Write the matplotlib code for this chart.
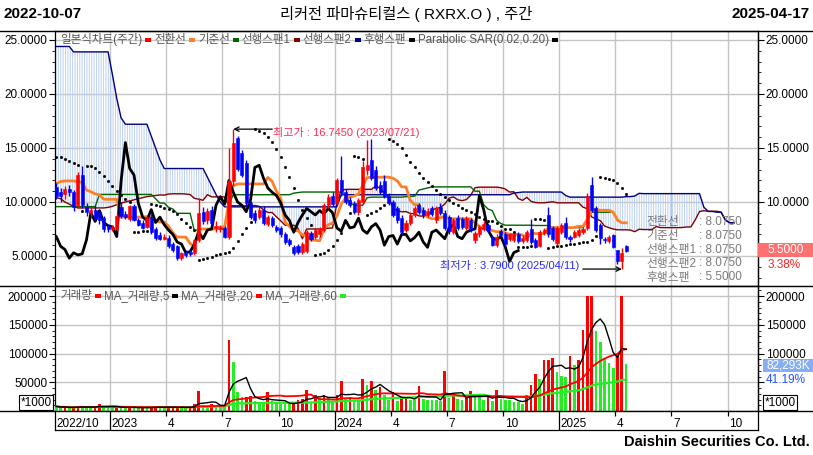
import numpy as np
import pandas as pd
import matplotlib
matplotlib.use("Agg")
import matplotlib.pyplot as plt
from matplotlib.patches import Rectangle
from matplotlib.lines import Line2D
from matplotlib.ticker import FixedLocator, MultipleLocator, FuncFormatter

plt.rcParams['font.family'] = ['Liberation Sans', 'Noto Sans CJK KR', 'DejaVu Sans']
plt.rcParams['hatch.linewidth'] = 0.7

# ---------------- data ----------------
title = "리커전 파마슈티컬스 ( RXRX.O ) , 주간"
date_from = "2022-10-07"
date_to = "2025-04-17"

opens = [11.4, 10.9, 10.7, 11.2, 10.9, 9.7, 12.5, 9.5, 9.0, 9.3,
         9.1, 8.5, 7.8, 7.5, 7.5, 9.5, 8.9, 8.4, 9.6, 8.3,
         8.1, 7.7, 8.6, 7.5, 6.9, 6.6, 6.7, 6.1, 5.9, 4.8,
         5.3, 5.4, 5.3, 6.5, 9.1, 8.3, 9.3, 7.6, 7.5, 7.6,
         6.8, 11.9, 15.9, 14.5, 13.6, 9.9, 9.0, 8.6, 9.3, 8.0,
         8.5, 7.7, 7.6, 7.0, 6.5, 5.8, 5.9, 5.4, 5.5, 7.1,
         6.8, 7.0, 7.4, 9.7, 10.6, 9.9, 12.0, 10.9, 10.2, 9.9,
         9.1, 10.0, 13.0, 13.9, 13.0, 11.6, 11.9, 10.6, 10.0, 9.4,
         8.5, 7.4, 8.1, 8.8, 9.7, 9.3, 8.8, 9.4, 8.3, 9.5,
         9.0, 8.6, 7.2, 8.5, 8.4, 7.6, 8.3, 6.5, 7.0, 7.5,
         7.9, 6.7, 6.0, 7.3, 7.0, 6.6, 6.5, 7.0, 6.4, 6.5,
         7.5, 6.5, 5.9, 7.1, 8.8, 7.6, 6.2, 7.2, 8.1, 6.8,
         6.8, 6.9, 7.2, 7.6, 11.6, 9.4, 7.9, 6.6, 6.4, 6.9,
         5.55, 4.5, 5.9]
highs = [11.8, 11.3, 11.5, 11.6, 11.1, 12.8, 13.3, 9.9, 9.5, 9.6,
         9.3, 8.7, 8.0, 7.9, 9.0, 10.0, 9.2, 9.7, 9.8, 8.5,
         8.3, 8.7, 8.9, 7.7, 7.2, 7.0, 6.9, 6.3, 6.0, 5.4,
         5.6, 5.6, 6.6, 10.4, 9.5, 9.4, 9.6, 8.2, 7.9, 7.8,
         15.0, 16.745, 16.1, 14.8, 13.9, 10.1, 9.3, 9.5, 9.6, 8.8,
         8.7, 7.9, 7.8, 7.2, 6.7, 6.0, 6.1, 6.3, 7.4, 7.3,
         7.6, 7.7, 9.9, 10.7, 10.9, 12.2, 14.3, 11.2, 10.5, 10.1,
         10.4, 13.8, 15.7, 15.8, 13.3, 11.9, 12.5, 10.8, 10.2, 9.6,
         8.8, 8.3, 9.0, 9.6, 9.9, 9.5, 9.4, 9.6, 9.6, 9.9,
         9.3, 8.8, 8.5, 8.8, 8.6, 8.7, 8.5, 7.3, 7.9, 8.2,
         8.1, 6.9, 7.0, 7.5, 7.2, 7.1, 7.1, 7.2, 6.9, 7.4,
         8.4, 6.7, 7.4, 7.6, 9.5, 7.8, 7.8, 8.1, 8.6, 6.9,
         7.4, 7.6, 7.7, 10.8, 12.36, 9.6, 8.1, 6.8, 6.9, 7.0,
         5.6, 5.75, 6.0]
lows = [10.3, 10.0, 10.3, 10.6, 9.2, 9.4, 9.4, 8.7, 8.6, 8.2,
        8.0, 7.2, 7.2, 7.3, 7.3, 8.5, 8.4, 8.2, 8.2, 7.8,
        7.5, 7.6, 7.0, 6.5, 6.5, 6.5, 5.7, 5.4, 4.6, 4.6,
        4.9, 5.0, 5.1, 6.3, 8.0, 8.0, 7.9, 7.2, 7.2, 6.7,
        6.6, 11.5, 12.9, 12.3, 9.6, 8.4, 8.1, 8.4, 7.9, 7.8,
        7.7, 7.2, 6.8, 6.1, 5.9, 5.1, 5.2, 5.2, 5.3, 6.4,
        6.6, 6.8, 7.2, 9.4, 9.6, 9.7, 10.6, 9.8, 9.5, 8.9,
        8.8, 9.8, 12.5, 12.0, 11.1, 10.7, 10.4, 9.7, 8.6, 8.1,
        7.0, 7.2, 7.9, 8.6, 8.9, 8.5, 8.6, 8.7, 8.1, 8.8,
        7.4, 7.0, 7.0, 7.4, 7.5, 7.4, 7.2, 6.2, 6.8, 7.3,
        7.2, 5.9, 5.8, 6.7, 5.8, 6.4, 6.3, 6.2, 6.2, 6.3,
        6.1, 5.75, 5.8, 6.9, 6.8, 6.4, 6.0, 7.0, 6.6, 6.3,
        6.7, 6.8, 7.0, 7.4, 9.1, 7.2, 6.1, 6.2, 6.2, 5.75,
        4.3, 3.79, 5.4]
closes = [10.6, 10.6, 11.2, 10.9, 9.5, 12.5, 9.7, 9.1, 9.3, 8.4,
          8.3, 7.5, 7.5, 7.7, 8.7, 8.7, 8.6, 9.6, 8.3, 7.9,
          7.6, 8.5, 7.2, 6.7, 6.6, 6.8, 5.9, 5.6, 4.8, 5.3,
          5.1, 5.2, 6.5, 9.0, 8.2, 9.2, 8.1, 7.8, 7.7, 6.8,
          11.9, 15.5, 13.1, 12.5, 9.9, 8.6, 8.3, 9.3, 8.1, 8.6,
          7.9, 7.4, 7.0, 6.3, 6.1, 5.3, 5.4, 6.1, 7.2, 6.6,
          7.4, 7.5, 9.7, 10.5, 9.8, 12.0, 10.9, 10.0, 9.7, 9.1,
          10.2, 13.2, 13.4, 12.2, 11.3, 10.9, 10.6, 9.9, 8.8, 8.3,
          7.2, 8.1, 8.8, 9.4, 9.1, 8.8, 9.2, 8.9, 9.4, 9.0,
          7.6, 7.3, 8.3, 7.6, 7.7, 8.5, 7.4, 7.1, 7.7, 8.0,
          7.4, 6.0, 6.8, 6.9, 6.1, 7.0, 7.0, 6.4, 6.7, 7.2,
          6.3, 5.8, 7.2, 7.4, 7.0, 6.6, 7.6, 7.9, 6.8, 6.6,
          7.2, 7.4, 7.5, 10.6, 9.3, 7.4, 6.7, 6.5, 6.8, 5.85,
          4.5, 5.32, 5.5]
volumes_k = [8, 6, 7, 5, 6, 9, 8, 6, 5, 7,
             13, 8, 7, 6, 7, 6, 5.5, 7, 6, 5,
             5.5, 5, 7, 9, 6, 5, 6, 7, 8, 6,
             5, 6, 12, 35, 10, 9, 13, 9, 8.5, 8,
             123, 86, 33, 24, 25, 26, 17, 16, 15, 33,
             17, 14, 13, 12.5, 12, 13, 20, 21, 36, 16,
             27, 23, 28, 24, 16, 27, 52, 23, 25, 20,
             19, 55, 46, 52, 36, 42, 27, 19, 33, 17,
             23, 24, 20, 19.5, 43, 21, 20, 19, 18.5, 18,
             69, 23, 26, 21, 20, 24, 34, 25, 24.5, 20,
             25, 17, 36, 21, 19, 18.5, 16, 15.5, 13, 27,
             46, 65, 55, 88, 89, 92, 68, 61, 60, 95,
             80, 88, 141, 200, 200, 140, 120, 92, 83, 74,
             97, 199.79, 82.293]

# indicator values visible before enough in-window history exists
tenkan_early = [11.7, 11.9, 11.95, 11.95, 11.95, 11.9, 11.8, 11.1]
kijun_early = [9.57] * 10 + [10.7] * 13 + [10.3, 9.9]
span1_early = [10.4, 10.3, 10.0, 9.8, 9.6, 9.45, 9.45, 9.45, 9.45, 9.45,
               9.45, 9.45, 9.5, 9.6, 9.75, 9.9, 10.0, 10.1, 10.2, 10.3,
               10.4, 10.5, 10.55, 10.6, 10.65]
span2_early = ([24.4] * 4 + [23.9] * 9 + [21.8, 19.6, 17.8, 17.2] + [17.2] * 5 +
               [16.1, 15.0, 13.9] + [13.1] * 10 + [12.3, 11.5, 10.7, 10.0] +
               [9.55] * 27 + [10.67] * 10)
sar_first = 14.2

quarter_months = [(2022, 10), (2023, 1), (2023, 4), (2023, 7), (2023, 10), (2024, 1),
                  (2024, 4), (2024, 7), (2024, 10), (2025, 1), (2025, 4), (2025, 7), (2025, 10)]
quarter_labels = ['2022/10', '2023', '4', '7', '10', '2024', '4', '7', '10', '2025', '4', '7', '10']

# ---------------- helpers ----------------
W, H = 813, 455
SHIFT = 25
o = np.array(opens); h = np.array(highs); l = np.array(lows); c = np.array(closes)
n = len(c)
idx = np.arange(n)
weeks = pd.date_range(date_from, periods=n + 40, freq='7D')

X0, X1 = -0.3, 162.55


def fx(x):
    return x / W


def fy(y):
    return 1 - y / H


def mid(t, p):
    return (h[t - p + 1:t + 1].max() + l[t - p + 1:t + 1].min()) / 2


tenkan = np.array([tenkan_early[t] if t < len(tenkan_early) else mid(t, 9) for t in range(n)])
kijun = np.array([kijun_early[t] if t < len(kijun_early) else mid(t, 26) for t in range(n)])
tt = np.arange(n + SHIFT)
span1 = np.array([span1_early[t] if t < len(span1_early) else (tenkan[t - SHIFT] + kijun[t - SHIFT]) / 2
                  for t in tt])
span2 = np.array([span2_early[t] if t < len(span2_early) else mid(t - SHIFT, 52) for t in tt])


def parabolic_sar(hs, ls, start, step=0.02, cap=0.2):
    trend = -1; sar = start; ep = ls[0]; af = step
    out = [sar]
    for i in range(1, len(hs)):
        sar = sar + af * (ep - sar)
        if trend < 0:
            sar = max(sar, hs[i - 1], hs[max(i - 2, 0)])
            if hs[i] > sar:
                trend = 1; sar = ep; ep = hs[i]; af = step
            elif ls[i] < ep:
                ep = ls[i]; af = min(af + step, cap)
        else:
            sar = min(sar, ls[i - 1], ls[max(i - 2, 0)])
            if ls[i] < sar:
                trend = -1; sar = ep; ep = ls[i]; af = step
            elif hs[i] > ep:
                ep = hs[i]; af = min(af + step, cap)
        out.append(sar)
    return np.array(out)


sar = parabolic_sar(h, l, sar_first)

q_pos = []
for (yy, mm) in quarter_months:
    k = int(np.argmax(weeks >= pd.Timestamp(yy, mm, 1)))
    q_pos.append(k - 0.5)

# ---------------- figure ----------------
fig = plt.figure(figsize=(W / 100, H / 100), dpi=100)
fig.patch.set_facecolor('white')
ax = fig.add_axes([fx(55), fy(286), 703 / W, 255 / H])
axv = fig.add_axes([fx(55), fy(411), 703 / W, 125 / H])
axd = fig.add_axes([fx(55), fy(430), 703 / W, 19 / H])

grid_c = '#c4c4c4'
for a in (ax, axv, axd):
    a.set_xlim(X0, X1)
    a.set_xticks([])
    for sp in a.spines.values():
        sp.set_linewidth(0.9)
        sp.set_color('black')

# ---- main panel ----
ax.set_ylim(2.222, 25.833)
for p in q_pos[1:]:
    ax.axvline(p, color=grid_c, lw=1, zorder=0)
    axv.axvline(p, color=grid_c, lw=1, zorder=0)
for v in [5, 10, 15, 20, 25]:
    ax.axhline(v, color=grid_c, lw=1, zorder=0)

ax.fill_between(tt, span1, span2, where=span2 >= span1, interpolate=True,
                facecolor='none', edgecolor='#bcd0f2', hatch='|' * 7, linewidth=0, zorder=1)
ax.fill_between(tt, span1, span2, where=span2 < span1, interpolate=True,
                facecolor='none', edgecolor='#f2b6c6', hatch='|' * 7, linewidth=0, zorder=1)

ax.plot(tt, span1, color='#800000', lw=1.0, zorder=2)
ax.plot(tt, span2, color='#000080', lw=1.0, zorder=2)
ax.plot(idx, kijun, color='#006400', lw=1.0, zorder=2)
ax.plot(idx, tenkan, color='#ff7f27', lw=2.0, zorder=2)
ax.plot(idx[:n - SHIFT], c[SHIFT:], color='black', lw=2.0, zorder=3)
ax.plot(idx, sar, ls='none', marker='s', ms=1.0, color='black', zorder=3)

up = c >= o
ccol = np.where(up, '#ff0000', '#0000ff')
ax.vlines(idx, l, h, colors=ccol, lw=1.0, zorder=5)
ax.bar(idx, np.maximum(np.abs(c - o), 0.07), 0.72, bottom=np.minimum(o, c),
       color=ccol, edgecolor=ccol, lw=0.4, zorder=6)

price_fmt = FuncFormatter(lambda v, p: f"{v:.4f}")
ax.yaxis.set_major_locator(FixedLocator([5, 10, 15, 20, 25]))
ax.yaxis.set_minor_locator(MultipleLocator(1))
ax.yaxis.set_major_formatter(price_fmt)
ax.tick_params(axis='y', which='both', left=True, right=False, labelleft=True, labelright=False,
               direction='out', labelsize=8.5, pad=1.5)
ax.tick_params(axis='y', which='major', length=4)
ax.tick_params(axis='y', which='minor', length=2)
# right-hand scale: the lowest label sits under the last-price box
axr = ax.secondary_yaxis('right')
axr.yaxis.set_major_locator(FixedLocator([5, 10, 15, 20, 25]))
axr.yaxis.set_minor_locator(MultipleLocator(1))
axr.yaxis.set_major_formatter(FuncFormatter(lambda v, p: '' if v < 6 else f"{v:.4f}"))
axr.tick_params(axis='y', which='both', direction='out', labelsize=8.5, pad=1.5)
axr.tick_params(axis='y', which='major', length=4)
axr.tick_params(axis='y', which='minor', length=2)
axr.spines['right'].set_linewidth(0.9)

# high / low annotations
ih = int(np.argmax(h)); il = int(np.argmin(l))
s = 703 / (X1 - X0)
ax.annotate('', xy=(ih, h[ih]), xytext=(ih + 39 / s, h[ih]),
            arrowprops=dict(arrowstyle='->', color='black', lw=0.9, shrinkA=0, shrinkB=0,
                            mutation_scale=8), zorder=8)
ax.text(ih + 40 / s, h[ih] - 0.27, f"최고가 : {h[ih]:.4f} ({weeks[ih].strftime('%Y/%m/%d')})",
        color='#ff2a55', fontsize=8, ha='left', va='center', zorder=8)
ax.annotate('', xy=(il, l[il]), xytext=(il - 39 / s, l[il]),
            arrowprops=dict(arrowstyle='->', color='black', lw=0.9, shrinkA=0, shrinkB=0,
                            mutation_scale=8), zorder=8)
ax.text(il - 43 / s, l[il] + 0.37, f"최저가 : {l[il]:.4f} ({weeks[il].strftime('%Y/%m/%d')})",
        color='#2a2aff', fontsize=8, ha='right', va='center', zorder=8)

# ---- volume panel ----
vol = np.array(volumes_k) * 1000
vcol = ['#22ee22'] + ['#ff0000' if vol[i] >= vol[i - 1] else '#22ee22' for i in range(1, n)]
axv.set_ylim(0, 217400)
for v in [50000, 100000, 150000, 200000]:
    axv.axhline(v, color=grid_c, lw=1, zorder=0)
axv.bar(idx, vol, 0.62, color=vcol, lw=0, zorder=3)
vs = pd.Series(vol)
axv.plot(idx, vs.rolling(60, min_periods=1).mean(), color='#22ee22', lw=1.6, zorder=4)
axv.plot(idx, vs.rolling(20, min_periods=1).mean(), color='#ff0000', lw=1.3, zorder=4)
axv.plot(idx, vs.rolling(5, min_periods=1).mean(), color='black', lw=1.0, zorder=5)
axv.yaxis.set_major_locator(FixedLocator([50000, 100000, 150000, 200000]))
axv.yaxis.set_minor_locator(MultipleLocator(10000))
axv.yaxis.set_major_formatter(FuncFormatter(lambda v, p: f"{int(v)}"))
axv.tick_params(axis='y', which='both', left=True, right=False, labelleft=True, labelright=False,
                direction='out', labelsize=8.5, pad=1.5)
axv.tick_params(axis='y', which='major', length=4)
axv.tick_params(axis='y', which='minor', length=2)
axvr = axv.secondary_yaxis('right')
axvr.yaxis.set_major_locator(FixedLocator([50000, 100000, 150000, 200000]))
axvr.yaxis.set_minor_locator(MultipleLocator(10000))
axvr.yaxis.set_major_formatter(FuncFormatter(lambda v, p: '' if v < 60000 else f"{int(v)}"))
axvr.tick_params(axis='y', which='both', direction='out', labelsize=8.5, pad=1.5)
axvr.tick_params(axis='y', which='major', length=4)
axvr.tick_params(axis='y', which='minor', length=2)
axvr.spines['right'].set_linewidth(0.9)

# ---- date row ----
axd.set_ylim(0, 1)
axd.set_yticks([])
axd.spines['top'].set_visible(False)
for p, lab in zip(q_pos, quarter_labels):
    if lab.startswith('20'):
        axd.axvline(p, color='black', lw=0.9)
    else:
        axd.vlines(p, 0.75, 1.0, color='black', lw=0.9)
    axd.text(max(p, X0) + 0.35, 0.33, lab, fontsize=8.5, ha='left', va='center')

# ---- figure-level lines ----
for yy in (30.5, 286, 411):
    fig.add_artist(Line2D([0, 1], [fy(yy), fy(yy)], transform=fig.transFigure, color='black', lw=1))

# ---- header ----
fig.text(fx(3), fy(14), date_from, fontsize=11, fontweight='bold',
         family=['Liberation Sans Narrow', 'Liberation Sans'], ha='left', va='center')
fig.text(fx(810), fy(14), date_to, fontsize=11, fontweight='bold',
         family=['Liberation Sans Narrow', 'Liberation Sans'], ha='right', va='center')
fig.text(fx(406), fy(14), title, fontsize=11, ha='center', va='center')
fig.text(fx(810), fy(442), 'Daishin Securities Co. Ltd.', fontsize=10.5, fontweight='bold',
         family=['Liberation Sans Narrow', 'Liberation Sans'], ha='right', va='center')

# ---- legends ----
renderer = fig.canvas.get_renderer()


def chain_legend(x, y, items, fs=8.3, tcolor='#555555'):
    for label, mcolor in items:
        t = fig.text(fx(x), fy(y), label, fontsize=fs, color=tcolor, ha='left', va='center', zorder=10)
        bb = t.get_window_extent(renderer=renderer)
        x = x + bb.width + 3
        fig.add_artist(Rectangle((fx(x), fy(y + 1.5)), 6 / W, 3.5 / H, transform=fig.transFigure,
                                 facecolor=mcolor, edgecolor='none', zorder=10))
        x += 9


chain_legend(60, 40, [('일본식차트(주간)', '#ff0000'), ('전환선', '#ff7f27'), ('기준선', '#006400'),
                      ('선행스팬1', '#800000'), ('선행스팬2', '#000080'), ('후행스팬', 'black'),
                      ('Parabolic SAR(0.02,0.20)', 'black')])
chain_legend(60, 296, [('거래량', '#ff0000'), ('MA_거래량,5', 'black'), ('MA_거래량,20', '#ff0000'),
                       ('MA_거래량,60', '#22ee22')])

# ---- info block at right ----
info = [('전환선', tenkan[-1]), ('기준선', kijun[-1]), ('선행스팬1', span1[-1]),
        ('선행스팬2', span2[-1]), ('후행스팬', c[-1])]
for k, (lab, val) in enumerate(info):
    yy = 221.5 + k * 14
    fig.text(fx(646), fy(yy), lab, fontsize=8.5, color='#7a7a7a', ha='left', va='center', zorder=10)
    fig.text(fx(699), fy(yy), f": {val:.4f}", fontsize=8.5, color='#7a7a7a', ha='left', va='center', zorder=10)

# last price box
chg = (c[-1] / c[-2] - 1) * 100
fig.add_artist(Rectangle((fx(758), fy(257)), 55 / W, 14 / H, transform=fig.transFigure,
                         facecolor='#ff7070', edgecolor='none', zorder=10))
fig.text(fx(786), fy(250), f"{c[-1]:.4f}", fontsize=8.5, color='white', ha='center', va='center', zorder=11)
fig.text(fx(784), fy(265), f"{chg:.2f}%", fontsize=8.5, color='#ff2020', ha='center', va='center', zorder=11)

# last volume box
vchg = vol[-1] / vol[-2] * 100
fig.add_artist(Rectangle((fx(763), fy(372)), 50 / W, 13 / H, transform=fig.transFigure,
                         facecolor='#86aef2', edgecolor='none', zorder=10))
fig.text(fx(788), fy(365.5), f"{vol[-1]:,.0f}K", fontsize=8.5, color='white',
         ha='center', va='center', zorder=11)
fig.text(fx(786), fy(380), f"{vchg:.2f}%", fontsize=8.5, color='#2050ff', ha='center', va='center', zorder=11)

# *1000 boxes
for xx in (36, 780):
    fig.text(fx(xx), fy(402.5), '*1000', fontsize=8.5, ha='center', va='center', zorder=11,
             bbox=dict(boxstyle='square,pad=0.15', facecolor='white', edgecolor='black', lw=0.8))

fig.savefig('out.png', dpi=100, facecolor='white')
